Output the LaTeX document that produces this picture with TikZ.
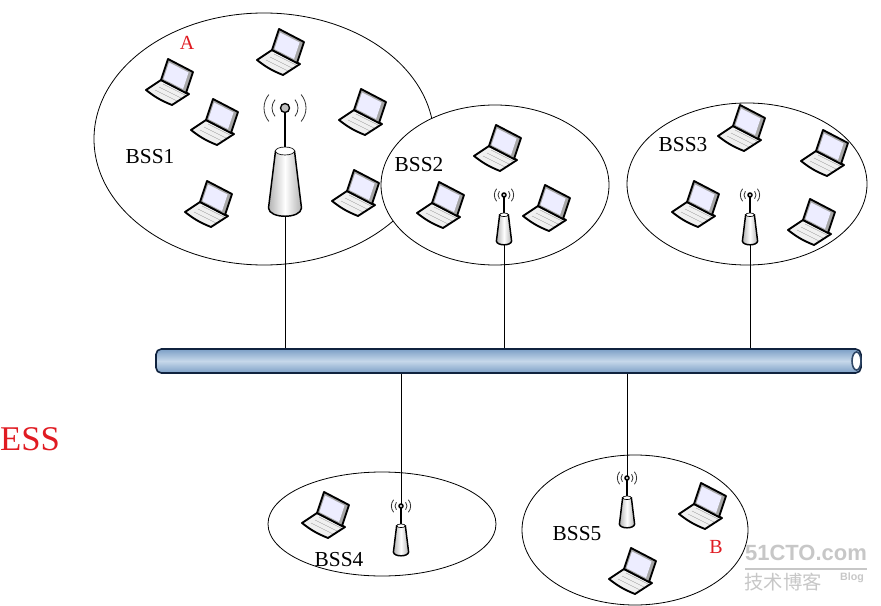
\documentclass[tikz,border=0pt]{standalone}
\usepackage{fontspec}
\setmainfont{Liberation Serif}
\newfontfamily\cjkfont{Noto Sans CJK SC}
\setsansfont{Liberation Sans}
\usetikzlibrary{shapes.geometric}
\definecolor{busblue}{HTML}{7C9FC6}
\definecolor{buslight}{HTML}{C6D8EA}
\definecolor{busedge}{HTML}{10233F}
\definecolor{markred}{HTML}{E01B22}
\tikzset{
  cell/.style 2 args={draw, ellipse, fill=white, line width=0.6pt, inner sep=0pt, minimum width=#1*0.75pt, minimum height=#2*0.75pt},
  celltext/.style={font=\fontsize{16}{16}\selectfont, inner sep=0pt},
  marktext/.style={font=\fontsize{15}{15}\selectfont, text=markred, inner sep=0pt},
  stamp/.style={text=black!22, inner sep=0pt},
  link/.style={line width=0.6pt},
  laptop/.pic={
    % base, then screen
    \draw[line width=1.4pt, line join=round, fill=black!6] (-23,8) -- (-8,-2) -- (20,12) -- (3,23) to[bend left=8] cycle;
    \draw[line width=0.25pt, black!40] (-14,8) -- (8,19) (-10,5) -- (12,16) (-6,2) -- (16,13);
    \draw[line width=1.4pt, line join=round, fill=black!35] (-8,-2) -- (-1,-23) -- (24,-10) -- (17,11) -- cycle;
    \fill[blue!7!white] (-5.5,-3) -- (0,-19.5) -- (19.5,-9.5) -- (14,7) -- cycle;
  },
  antenna/.pic={
    \draw[line width=1.2pt] (0,0) -- (0,45);
    \draw[line width=1pt, fill=black!25] (0,0) circle (4.5);
    \foreach \r in {13,21} {
      \draw[line width=0.6pt, black!80] ({\r*cos(140)},{\r*sin(140)}) arc[start angle=140, end angle=220, radius=\r];
      \draw[line width=0.6pt, black!80] ({\r*cos(-40)},{\r*sin(-40)}) arc[start angle=-40, end angle=40, radius=\r];
    }
    \draw[line width=1.1pt, left color=black!30, right color=black!30, middle color=white] (-9.5,43) -- (-16.5,100) .. controls (-16,111) and (16,111) .. (16.5,100) -- (9.5,43) -- cycle;
    \draw[line width=0.5pt, fill=white] (0,43) ellipse (9.5 and 4);
    \coordinate (-top) at (0,-4.5);
    \coordinate (-foot) at (0,108);
  },
}
\begin{document}
\begin{tikzpicture}[x=0.75pt, y=-0.75pt]
  \useasboundingbox (0,0) rectangle (881,606);
  % cells
  \node[cell={340}{252}] (cell1) at (264,139) {};
  \node[cell={228}{160}] (cell2) at (495,185) {};
  \node[cell={240}{162}] (cell3) at (747,184) {};
  \node[cell={228}{104}] (cell4) at (382,524) {};
  \node[cell={226}{150}] (cell5) at (635,530) {};
  % laptops
  \foreach \x/\y in {169/82, 280/52, 214/122, 362/112, 208/204, 355/193,
                     497/148, 440/205, 546/208,
                     741/128, 824/153, 695/204, 811/222,
                     325/515, 702/506, 632/571} {
    \pic at (\x,\y) {laptop};
  }
  % backbone
  \node[rectangle, draw=busedge, line width=1.2pt, rounded corners=4pt, top color=busblue, bottom color=busblue, middle color=buslight,
        minimum width=705*0.75pt, minimum height=24*0.75pt, inner sep=0pt] (bus) at (508.5,361) {};
  \node[ellipse, draw=busedge!70!busblue, line width=1.2pt, fill=white, minimum width=9*0.75pt, minimum height=18*0.75pt, inner sep=0pt] (busend) at (856.5,361) {};
  % antennas
  \pic (ant1) at (285,108) {antenna};
  \pic[scale=0.46] (ant2) at (504,195) {antenna};
  \pic[scale=0.46] (ant3) at (750,195) {antenna};
  \pic[scale=0.46] (ant4) at (401,506) {antenna};
  \pic[scale=0.46] (ant5) at (627,478) {antenna};
  \draw[link] (ant1-foot) -- (ant1-foot |- bus.north);
  \draw[link] (ant2-foot) -- (ant2-foot |- bus.north);
  \draw[link] (ant3-foot) -- (ant3-foot |- bus.north);
  \draw[link] (ant4-top) -- (ant4-top |- bus.south);
  \draw[link] (ant5-top) -- (ant5-top |- bus.south);
  % labels
  \node[celltext] (bss1) at (150,157) {BSS1};
  \node[celltext] (bss2) at (419,165) {BSS2};
  \node[celltext] (bss3) at (683,145) {BSS3};
  \node[celltext] (bss4) at (339,560) {BSS4};
  \node[celltext] (bss5) at (577,534) {BSS5};
  \node[marktext] (hosta) at (187,43) {A};
  \node[marktext] (hostb) at (716,547) {B};
  \node[text=markred, font=\fontsize{26}{26}\selectfont, inner sep=0pt] (ess) at (30,439) {ESS};
  % watermark
  \node[stamp, font=\sffamily\bfseries\fontsize{16.5}{16.5}\selectfont] (stampa) at (806,553) {51CTO.com};
  \node[stamp, font=\cjkfont\fontsize{14.5}{14.5}\selectfont] (stampb) at (783,582) {技术博客};
  \node[stamp, font=\sffamily\bfseries\fontsize{8}{8}\selectfont] (stampc) at (852,578) {Blog};
  \draw[black!22, line width=0.8pt] (745,569) -- (867,569);
\end{tikzpicture}
\end{document}
